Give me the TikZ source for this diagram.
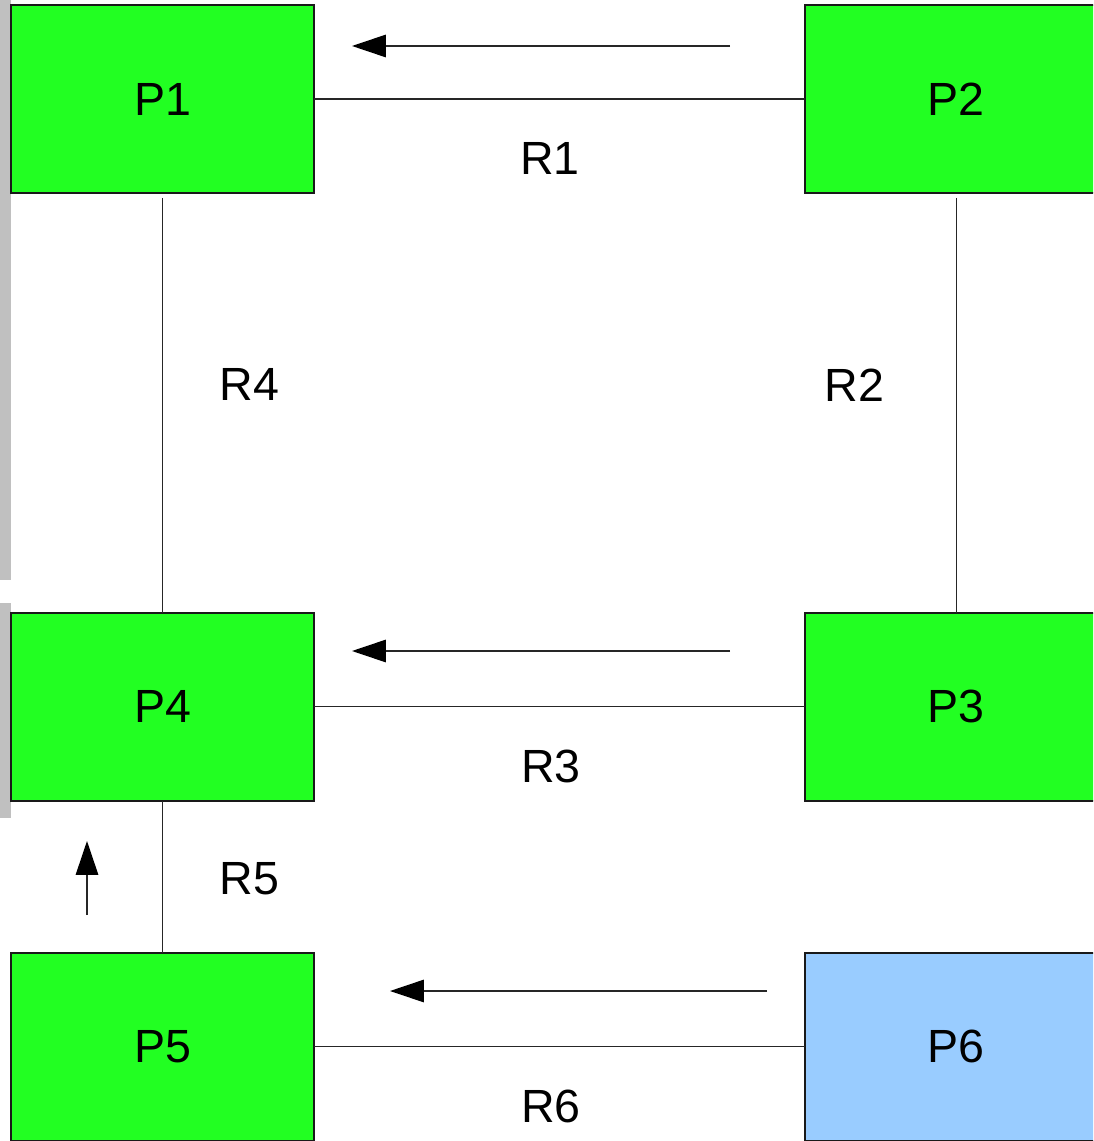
\documentclass[tikz,border=0pt]{standalone}
\usepackage{fontspec}
\setmainfont{Liberation Sans}
\usetikzlibrary{arrows.meta,positioning}
\definecolor{procgreen}{RGB}{34,255,34}
\definecolor{procblue}{RGB}{153,204,255}
\definecolor{bargray}{RGB}{192,192,192}
\begin{document}
\begin{tikzpicture}[x=0.02cm,y=-0.02cm,font=\fontsize{26.5}{32}\selectfont,
    proc/.style={draw=black!90,line width=0.85pt,fill=procgreen,
      minimum width=6.06cm,minimum height=3.76cm,inner sep=0pt,outer sep=0pt},
    link/.style={black!85,line width=0.6pt},
    flow/.style={black!85,line width=0.8pt,-{Triangle[length=19.3pt,width=12.8pt,color=black]}},
    rlbl/.style={inner sep=0pt,text=black}]
      \clip (0,0) rectangle (1093,1141);
      % side bars
      \fill[bargray] (0,0) rectangle (11,580);
      \fill[bargray] (0,603) rectangle (11,818);
      % processes
      \node[proc] (p1) at (162.5,99) {P1};
      \node[proc,right=9.82cm of p1] (p2) {P2};
      \node[proc,below=8.4cm of p1] (p4) {P4};
      \node[proc,right=9.82cm of p4] (p3) {P3};
      \node[proc,below=3.04cm of p4] (p5) {P5};
      \node[proc,fill=procblue,right=9.82cm of p5] (p6) {P6};
      % resources
      \draw[link] (p1) -- node[rlbl,xshift=-0.19cm,yshift=-1.19cm] {R1} (p2);
      \draw[link,shorten <=0.1cm] (p2) -- node[rlbl,xshift=-2.04cm,yshift=0.36cm] {R2} (p3);
      \draw[link] (p4) -- node[rlbl,xshift=-0.17cm,yshift=-1.19cm] {R3} (p3);
      \draw[link,shorten <=0.1cm] (p1) -- node[rlbl,xshift=1.74cm,yshift=0.36cm] {R4} (p4);
      \draw[link] (p4) -- node[rlbl,xshift=1.74cm,yshift=-0.04cm] {R5} (p5);
      \draw[link] (p5) -- node[rlbl,xshift=-0.17cm,yshift=-1.19cm] {R6} (p6);
      % request direction
      \coordinate (f1a) at (730,46);  \coordinate (f1b) at (352,46);
      \coordinate (f2a) at (730,651); \coordinate (f2b) at (352,651);
      \coordinate (f3a) at (767,991); \coordinate (f3b) at (390,991);
      \coordinate (f4a) at (87,915);  \coordinate (f4b) at (87,841);
      \foreach \a/\b in {f1a/f1b,f2a/f2b,f3a/f3b,f4a/f4b}
        \draw[flow] (\a) -- (\b);
    \end{tikzpicture}
\end{document}
